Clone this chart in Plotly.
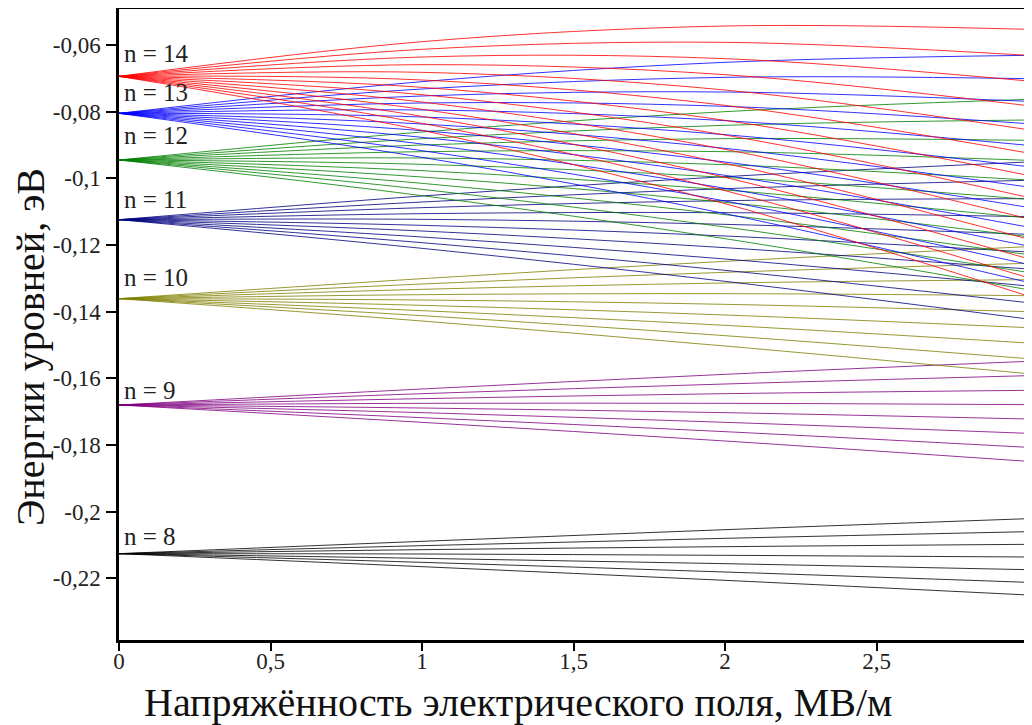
import plotly.graph_objects as go

# Field strength samples, MV/m
field = [0, 1, 2, 3]

# Level energies (eV) at field = 0, 1, 2, 3 MV/m
n8_lines = [
    [-0.2126, -0.2089, -0.2054, -0.2021],
    [-0.2126, -0.2102, -0.2080, -0.2060],
    [-0.2126, -0.2114, -0.2105, -0.2098],
    [-0.2126, -0.2127, -0.2131, -0.2136],
    [-0.2126, -0.2140, -0.2156, -0.2174],
    [-0.2126, -0.2152, -0.2181, -0.2212],
    [-0.2126, -0.2165, -0.2206, -0.2250],
]
n9_lines = [
    [-0.1680, -0.1632, -0.1588, -0.1549],
    [-0.1680, -0.1646, -0.1617, -0.1592],
    [-0.1680, -0.1661, -0.1646, -0.1636],
    [-0.1680, -0.1675, -0.1675, -0.1679],
    [-0.1680, -0.1689, -0.1703, -0.1722],
    [-0.1680, -0.1703, -0.1732, -0.1765],
    [-0.1680, -0.1718, -0.1760, -0.1807],
    [-0.1680, -0.1732, -0.1788, -0.1849],
]
n10_lines = [
    [-0.1361, -0.1301, -0.1249, -0.1205],
    [-0.1361, -0.1317, -0.1282, -0.1255],
    [-0.1361, -0.1333, -0.1314, -0.1304],
    [-0.1361, -0.1349, -0.1346, -0.1352],
    [-0.1361, -0.1365, -0.1378, -0.1400],
    [-0.1361, -0.1381, -0.1410, -0.1448],
    [-0.1361, -0.1397, -0.1441, -0.1494],
    [-0.1361, -0.1412, -0.1472, -0.1541],
    [-0.1361, -0.1428, -0.1503, -0.1586],
]
n11_lines = [
    [-0.1124, -0.1053, -0.0995, -0.0951],
    [-0.1124, -0.1071, -0.1031, -0.1006],
    [-0.1124, -0.1088, -0.1067, -0.1061],
    [-0.1124, -0.1106, -0.1103, -0.1115],
    [-0.1124, -0.1123, -0.1138, -0.1168],
    [-0.1124, -0.1141, -0.1173, -0.1221],
    [-0.1124, -0.1158, -0.1208, -0.1272],
    [-0.1124, -0.1176, -0.1242, -0.1323],
    [-0.1124, -0.1193, -0.1276, -0.1373],
    [-0.1124, -0.1210, -0.1309, -0.1422],
]
n12_lines = [
    [-0.0945, -0.0861, -0.0800, -0.0763],
    [-0.0945, -0.0881, -0.0841, -0.0825],
    [-0.0945, -0.0900, -0.0881, -0.0886],
    [-0.0945, -0.0920, -0.0920, -0.0946],
    [-0.0945, -0.0939, -0.0959, -0.1005],
    [-0.0945, -0.0958, -0.0997, -0.1063],
    [-0.0945, -0.0977, -0.1035, -0.1119],
    [-0.0945, -0.0996, -0.1072, -0.1175],
    [-0.0945, -0.1015, -0.1109, -0.1229],
    [-0.0945, -0.1033, -0.1146, -0.1282],
    [-0.0945, -0.1052, -0.1181, -0.1334],
]
n13_lines = [
    [-0.0805, -0.0710, -0.0652, -0.0631],
    [-0.0805, -0.0732, -0.0697, -0.0701],
    [-0.0805, -0.0753, -0.0741, -0.0769],
    [-0.0805, -0.0774, -0.0784, -0.0836],
    [-0.0805, -0.0795, -0.0827, -0.0901],
    [-0.0805, -0.0816, -0.0869, -0.0965],
    [-0.0805, -0.0837, -0.0910, -0.1026],
    [-0.0805, -0.0857, -0.0951, -0.1087],
    [-0.0805, -0.0877, -0.0991, -0.1146],
    [-0.0805, -0.0897, -0.1030, -0.1203],
    [-0.0805, -0.0917, -0.1068, -0.1258],
    [-0.0805, -0.0937, -0.1106, -0.1312],
]
n14_lines = [
    [-0.0694, -0.0590, -0.0543, -0.0553],
    [-0.0694, -0.0613, -0.0592, -0.0631],
    [-0.0694, -0.0636, -0.0641, -0.0708],
    [-0.0694, -0.0659, -0.0689, -0.0782],
    [-0.0694, -0.0682, -0.0735, -0.0854],
    [-0.0694, -0.0705, -0.0781, -0.0924],
    [-0.0694, -0.0727, -0.0826, -0.0991],
    [-0.0694, -0.0749, -0.0870, -0.1057],
    [-0.0694, -0.0771, -0.0913, -0.1121],
    [-0.0694, -0.0793, -0.0955, -0.1182],
    [-0.0694, -0.0814, -0.0997, -0.1241],
    [-0.0694, -0.0835, -0.1037, -0.1298],
    [-0.0694, -0.0856, -0.1076, -0.1353],
]

group_labels = ["n = 8", "n = 9", "n = 10", "n = 11", "n = 12", "n = 13", "n = 14"]
groups = [n8_lines, n9_lines, n10_lines, n11_lines, n12_lines, n13_lines, n14_lines]

y_tick_vals = [-0.22, -0.2, -0.18, -0.16, -0.14, -0.12, -0.1, -0.08, -0.06]
y_tick_text = ["-0,22", "-0,2", "-0,18", "-0,16", "-0,14", "-0,12", "-0,1", "-0,08", "-0,06"]
x_tick_vals = [0, 0.5, 1, 1.5, 2, 2.5, 3]
x_tick_text = ["0", "0,5", "1", "1,5", "2", "2,5", "3"]
x_title = "Напряжённость электрического поля, МВ/м"
y_title = "Энергии уровней, эВ"

# styles
colors = ["#000000", "#800080", "#808000", "#000080", "#008000", "#0000ff", "#ff0000"]
label_shift = [17, 15, 21, 20, 25, 21, 23]
FONT = "Liberation Serif"

fig = go.Figure()
for lines, color in zip(groups, colors):
    for vals in lines:
        fig.add_trace(go.Scatter(
            x=field, y=vals, mode="lines", opacity=0.8,
            line=dict(color=color, width=1, shape="spline"),
            hoverinfo="skip", showlegend=False,
        ))

for lines, label, shift in zip(groups, group_labels, label_shift):
    fig.add_annotation(
        x=0, y=lines[0][0], text=label, showarrow=False,
        xanchor="left", yanchor="middle", xshift=3, yshift=shift,
        font=dict(family=FONT, size=25, color="#222222"),
    )

fig.add_annotation(
    xref="paper", yref="paper", x=0.439, y=-0.0998, text=x_title,
    showarrow=False, xanchor="center", yanchor="middle",
    font=dict(family=FONT, size=40, color="#111111"),
)
fig.add_annotation(
    xref="paper", yref="paper", x=-0.0979, y=0.4643, text=y_title,
    showarrow=False, xanchor="center", yanchor="middle", textangle=-90,
    font=dict(family=FONT, size=40, color="#111111"),
)

axis_common = dict(
    showgrid=False, zeroline=False, showline=True, linecolor="#000000",
    linewidth=2.5, mirror=True, ticks="outside", tickwidth=1.5,
    tickcolor="#000000", automargin=False,
    tickfont=dict(family=FONT, size=23, color="#222222"),
)

fig.update_layout(
    width=1024, height=717,
    margin=dict(l=111, r=4, t=1, b=85),
    paper_bgcolor="white", plot_bgcolor="white",
    font=dict(family=FONT),
    xaxis=dict(range=[0, 3], tickvals=x_tick_vals, ticktext=x_tick_text,
               ticklen=8, ticklabelstandoff=-9, **axis_common),
    yaxis=dict(range=[-0.2385, -0.0492], tickvals=y_tick_vals, ticktext=y_tick_text,
               ticklen=10, ticklabelstandoff=1, **axis_common),
)

fig.write_html("out.html")
